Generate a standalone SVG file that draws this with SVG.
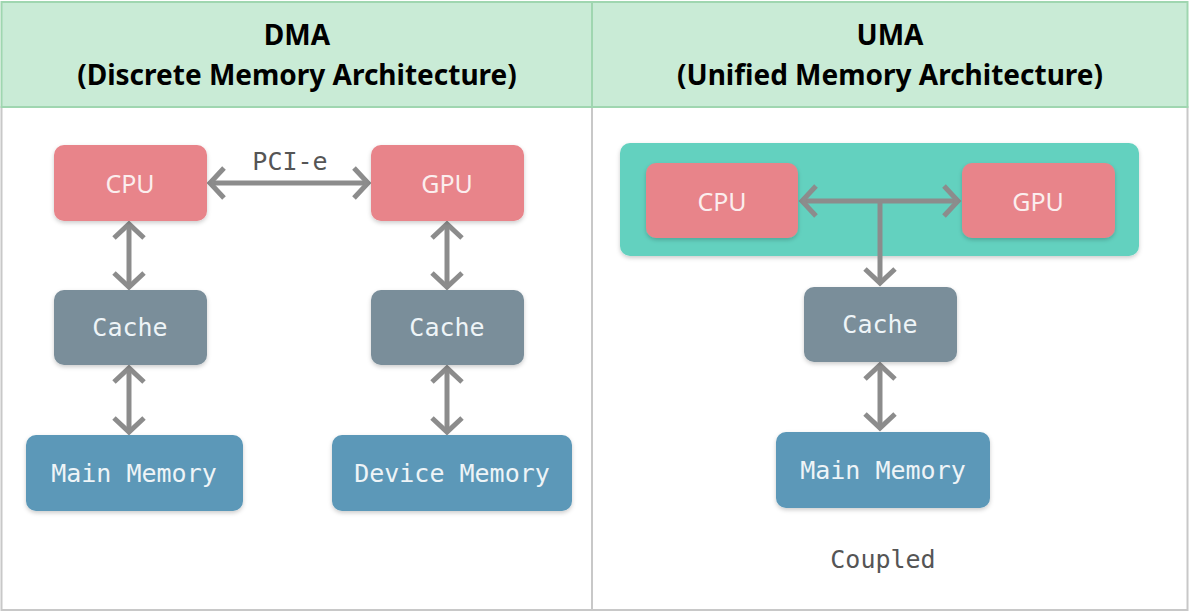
<svg xmlns="http://www.w3.org/2000/svg" width="1190" height="613" viewBox="0 0 1190 613">
<style>
.hdr{font-family:"Noto Sans","Liberation Sans",sans-serif;font-weight:bold;font-size:28px;fill:#000;text-anchor:middle}
.mono{font-family:"DejaVu Sans Mono","Liberation Mono",monospace;font-size:25px;text-anchor:middle;dominant-baseline:central}
.lbl{fill:#eef4f7}
.dark{fill:#555}
.pu{font-family:"Noto Sans","DejaVu Sans",sans-serif;font-size:25px;fill:#fbeeee;text-anchor:middle;dominant-baseline:central}
.red{fill:#e8848a}
.gray{fill:#7a8e9a}
.blue{fill:#5b98b8}
.teal{fill:#63d1bf}
.con{stroke:#8c8c8c;stroke-width:5;fill:none;marker-start:url(#ch);marker-end:url(#ch)}
</style>
<defs>
<filter id="sh" x="-10%" y="-10%" width="120%" height="130%">
<feDropShadow dx="0" dy="2" stdDeviation="2" flood-color="#000" flood-opacity="0.2"/>
</filter>
<marker id="ch" markerUnits="userSpaceOnUse" viewBox="-20 -20 40 40" markerWidth="40" markerHeight="40" refX="0" refY="0" orient="auto-start-reverse">
<path d="M -14 -15 L 0 0 L -14 15" fill="none" stroke="#8c8c8c" stroke-width="5"/>
</marker>
<marker id="ch1" markerUnits="userSpaceOnUse" viewBox="-20 -20 40 40" markerWidth="40" markerHeight="40" refX="0" refY="0" orient="auto">
<path d="M -14 -15 L 0 0 L -14 15" fill="none" stroke="#8c8c8c" stroke-width="5"/>
</marker>
</defs>
<rect width="1190" height="613" fill="#fff"/>
<g id="table">
<rect x="1.5" y="2" width="1186" height="105" fill="#c9ebd6"/>
<rect x="1.5" y="107" width="1186" height="503" fill="#fff" stroke="#c8c8c8" stroke-width="2"/>
<line x1="592" y1="107" x2="592" y2="610" stroke="#c8c8c8" stroke-width="2"/>
<rect x="1.5" y="2" width="1186" height="105" fill="none" stroke="#9fd6b0" stroke-width="2"/>
<line x1="592" y1="2" x2="592" y2="107" stroke="#9fd6b0" stroke-width="2"/>
<text class="hdr" x="297" y="45">DMA</text>
<text class="hdr" x="297" y="85">(Discrete Memory Architecture)</text>
<text class="hdr" x="890" y="45">UMA</text>
<text class="hdr" x="890" y="85">(Unified Memory Architecture)</text>
</g>
<g id="uma-container">
<rect class="teal" x="620" y="143" width="519" height="113" rx="10" filter="url(#sh)"/>
</g>
<g id="connectors">
<line class="con" x1="210" y1="183" x2="368" y2="183"/>
<text class="mono dark" x="290" y="161">PCI-e</text>
<line class="con" x1="129" y1="224" x2="129" y2="287"/>
<line class="con" x1="129" y1="368" x2="129" y2="432"/>
<line class="con" x1="447" y1="224" x2="447" y2="287"/>
<line class="con" x1="447" y1="368" x2="447" y2="432"/>
<line class="con" x1="802" y1="201" x2="958" y2="201"/>
<polyline points="880,201 880,283" stroke="#8c8c8c" stroke-width="5" fill="none" marker-end="url(#ch1)"/>
<line class="con" x1="880" y1="365" x2="880" y2="428"/>
</g>
<g id="dma-cpu"><rect class="red" x="54" y="145" width="153" height="76" rx="10" filter="url(#sh)"/><text class="pu" x="130" y="183">CPU</text></g>
<g id="dma-gpu"><rect class="red" x="371" y="145" width="153" height="76" rx="10" filter="url(#sh)"/><text class="pu" x="447" y="183">GPU</text></g>
<g id="dma-cache-l"><rect class="gray" x="54" y="290" width="153" height="75" rx="10" filter="url(#sh)"/><text class="mono lbl" x="130" y="327">Cache</text></g>
<g id="dma-cache-r"><rect class="gray" x="371" y="290" width="153" height="75" rx="10" filter="url(#sh)"/><text class="mono lbl" x="447" y="327">Cache</text></g>
<g id="dma-main"><rect class="blue" x="26" y="435" width="217" height="76" rx="10" filter="url(#sh)"/><text class="mono lbl" x="134" y="473">Main Memory</text></g>
<g id="dma-device"><rect class="blue" x="332" y="435" width="240" height="76" rx="10" filter="url(#sh)"/><text class="mono lbl" x="452" y="473">Device Memory</text></g>
<g id="uma-cpu"><rect class="red" x="646" y="163" width="152" height="75" rx="10" filter="url(#sh)"/><text class="pu" x="722" y="201">CPU</text></g>
<g id="uma-gpu"><rect class="red" x="962" y="163" width="153" height="75" rx="10" filter="url(#sh)"/><text class="pu" x="1038" y="201">GPU</text></g>
<g id="uma-cache"><rect class="gray" x="804" y="287" width="153" height="75" rx="10" filter="url(#sh)"/><text class="mono lbl" x="880" y="324">Cache</text></g>
<g id="uma-main"><rect class="blue" x="776" y="432" width="214" height="76" rx="10" filter="url(#sh)"/><text class="mono lbl" x="883" y="470">Main Memory</text></g>
<text class="mono dark" x="883" y="559">Coupled</text>
</svg>
